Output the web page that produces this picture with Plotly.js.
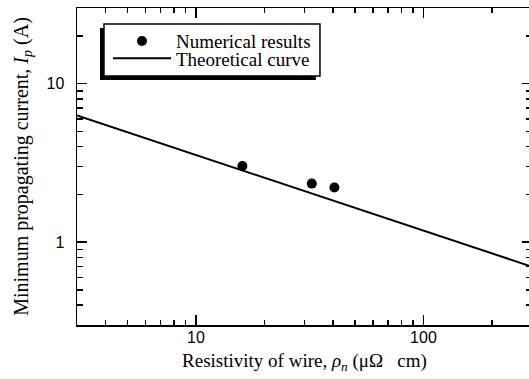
<!DOCTYPE html>
<html><head><meta charset="utf-8">
<script src="https://cdn.plot.ly/plotly-3.0.1.min.js"></script>
<style>html,body{margin:0;padding:0;overflow:hidden;background:#fff}#chart{width:533px;height:379px}</style>
</head><body><div id="chart"></div>
<script>
// Numerical results
const resistivity = [16, 32.3, 40.6];
const numericalCurrent = [3.02, 2.34, 2.21];
// Theoretical curve end points
const curveResistivity = [3, 300];
const curveCurrent = [6.3, 0.70];
// Tick values / labels
const xMajorTicks = [10, 100];
const xMajorLabels = ['10', '100'];
const xMinorTicks = [4, 5, 6, 7, 8, 9, 20, 30, 40, 50, 60, 70, 80, 90, 200];
const yMajorTicks = [1, 10];
const yMajorLabels = ['1', '10'];
const yMinorTicks = [0.4, 0.5, 0.6, 0.7, 0.8, 0.9, 2, 3, 4, 5, 6, 7, 8, 9, 20];

const serif = 'Liberation Serif, Times New Roman, serif';
const sans = 'Liberation Sans, Arial, Helvetica, sans-serif';

const traces = [
  {x: curveResistivity, y: curveCurrent, mode: 'lines', name: 'Theoretical curve',
   line: {color: '#000', width: 2}, legend: 'legend2'},
  {x: resistivity, y: numericalCurrent, mode: 'markers', name: 'Numerical results',
   marker: {color: '#000', size: 10}, legend: 'legend'}
];

const axisCommon = {
  type: 'log', showgrid: false, zeroline: false, showline: true, linecolor: '#000', linewidth: 1.5,
  mirror: 'allticks', ticks: 'inside', ticklen: 10, tickwidth: 1.5, tickcolor: '#000',
  tickfont: {family: sans, size: 16, color: '#000'}, tickmode: 'array'
};

const legendCommon = {xanchor: 'left', yanchor: 'middle', bgcolor: 'rgba(0,0,0,0)', borderwidth: 0,
  itemwidth: 58, font: {family: serif, size: 19, color: '#000'}};

const layout = {
  width: 533, height: 379,
  margin: {l: 77, r: 1, t: 8, b: 54},
  paper_bgcolor: '#fff', plot_bgcolor: '#fff',
  showlegend: true,
  legend: Object.assign({}, legendCommon, {x: 0.0681, y: 0.8955}),
  legend2: Object.assign({}, legendCommon, {x: 0.0681, y: 0.841}),
  xaxis: Object.assign({}, axisCommon, {
    range: [Math.log10(3), Math.log10(300)],
    tickvals: xMajorTicks, ticktext: xMajorLabels, ticklabelstandoff: -3,
    minor: {tickmode: 'array', tickvals: xMinorTicks, ticks: 'inside', ticklen: 5, tickwidth: 1.5, tickcolor: '#000', showgrid: false},
    title: {text: 'Resistivity of wire, <i>ρ<sub>n</sub></i> (μΩ\u00a0\u00a0\u00a0cm)', font: {family: serif, size: 19, color: '#000'}, standoff: 9}
  }),
  yaxis: Object.assign({}, axisCommon, {
    range: [Math.log10(0.3), Math.log10(30)],
    tickvals: yMajorTicks, ticktext: yMajorLabels, ticklabelstandoff: 8,
    minor: {tickmode: 'array', tickvals: yMinorTicks, ticks: 'inside', ticklen: 6, tickwidth: 1.5, tickcolor: '#000', showgrid: false},
    title: {text: 'Minimum propagating current, <i>I<sub>p</sub></i> (A)', font: {family: serif, size: 20, color: '#000'}, standoff: 12}
  }),
  shapes: [
    {type: 'rect', xref: 'paper', yref: 'paper', x0: 0.0505, x1: 0.525, y0: 0.773, y1: 0.937,
     fillcolor: '#000', line: {width: 0}, layer: 'above'},
    {type: 'rect', xref: 'paper', yref: 'paper', x0: 0.0593, x1: 0.534, y0: 0.7855, y1: 0.9495,
     fillcolor: '#fff', line: {color: '#000', width: 1.5}, layer: 'above'}
  ]
};

Plotly.newPlot('chart', traces, layout, {displayModeBar: false, staticPlot: true});
</script></body></html>
